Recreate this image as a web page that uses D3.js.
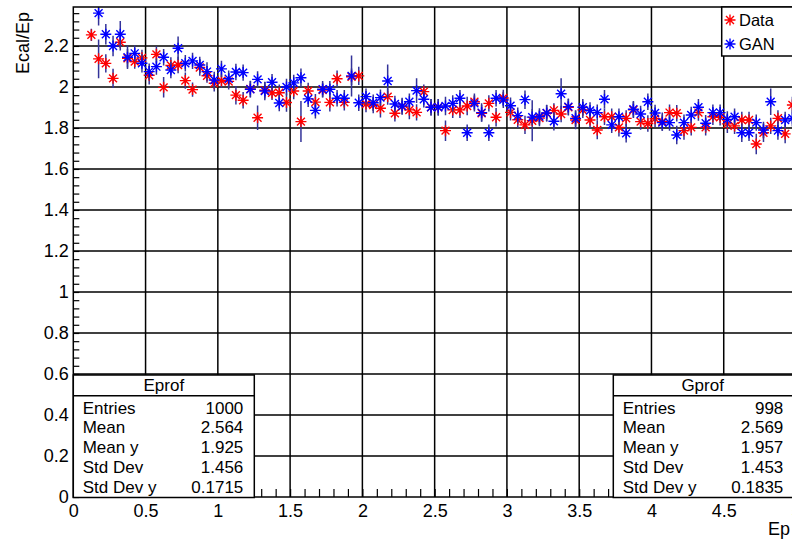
<!DOCTYPE html>
<html>
<head>
<meta charset="utf-8">
<script src="https://cdn.jsdelivr.net/npm/d3@7"></script>
<style>
body { margin: 0; background: #fff; }
svg { display: block; font-family: "Liberation Sans", Arial, Helvetica, sans-serif; }
</style>
</head>
<body>
<svg id="graph" width="792" height="542"></svg>
<script>
"use strict";

// bin centres (Ep)
var ep = [
  0.125, 0.175, 0.225, 0.275, 0.325, 0.375, 0.425, 0.475, 0.525, 0.575,
  0.625, 0.675, 0.725, 0.775, 0.825, 0.875, 0.925, 0.975, 1.025, 1.075,
  1.125, 1.175, 1.225, 1.275, 1.325, 1.375, 1.425, 1.475, 1.525, 1.575,
  1.625, 1.675, 1.725, 1.775, 1.825, 1.875, 1.925, 1.975, 2.025, 2.075,
  2.125, 2.175, 2.225, 2.275, 2.325, 2.375, 2.425, 2.475, 2.525, 2.575,
  2.625, 2.675, 2.725, 2.775, 2.825, 2.875, 2.925, 2.975, 3.025, 3.075,
  3.125, 3.175, 3.225, 3.275, 3.325, 3.375, 3.425, 3.475, 3.525, 3.575,
  3.625, 3.675, 3.725, 3.775, 3.825, 3.875, 3.925, 3.975, 4.025, 4.075,
  4.125, 4.175, 4.225, 4.275, 4.325, 4.375, 4.425, 4.475, 4.525, 4.575,
  4.625, 4.675, 4.725, 4.775, 4.825, 4.875, 4.925, 4.975
];

// Eprof (Data) profile: mean Ecal/Ep and error per bin
var dataMean = [
  2.254, 2.137, 2.115, 2.042, 2.218, 2.140, 2.124, 2.142, 2.057, 2.159,
  1.998, 2.105, 2.107, 2.031, 1.987, 2.095, 2.055, 2.018, 2.030, 2.027,
  1.960, 1.935, 1.990, 1.850, 1.984, 1.971, 1.972, 1.924, 1.980, 1.831,
  1.980, 1.926, 1.985, 1.925, 2.040, 1.925, 2.050, 2.054, 1.917, 1.912,
  1.896, 1.953, 1.872, 1.904, 1.888, 1.876, 1.977, 1.901, 1.901, 1.787,
  1.888, 1.888, 1.907, 1.928, 1.872, 1.920, 1.852, 1.946, 1.876, 1.840,
  1.815, 1.835, 1.848, 1.872, 1.886, 1.868, 1.901, 1.839, 1.888, 1.839,
  1.790, 1.855, 1.855, 1.803, 1.847, 1.888, 1.831, 1.822, 1.845, 1.831,
  1.875, 1.872, 1.787, 1.803, 1.875, 1.803, 1.855, 1.852, 1.820, 1.810,
  1.839, 1.839, 1.722, 1.777, 1.810, 1.847, 1.771, 1.912
];
var dataErr = [
  0.030, 0.095, 0.045, 0.047, 0.040, 0.045, 0.035, 0.040, 0.045, 0.040,
  0.050, 0.040, 0.040, 0.040, 0.035, 0.040, 0.035, 0.040, 0.035, 0.040,
  0.045, 0.040, 0.040, 0.060, 0.040, 0.035, 0.040, 0.045, 0.040, 0.100,
  0.040, 0.040, 0.035, 0.045, 0.040, 0.040, 0.040, 0.045, 0.040, 0.040,
  0.045, 0.040, 0.040, 0.040, 0.045, 0.040, 0.035, 0.040, 0.040, 0.050,
  0.040, 0.040, 0.045, 0.040, 0.040, 0.040, 0.045, 0.040, 0.040, 0.040,
  0.045, 0.100, 0.040, 0.040, 0.035, 0.040, 0.040, 0.045, 0.040, 0.040,
  0.045, 0.040, 0.040, 0.045, 0.040, 0.040, 0.040, 0.040, 0.040, 0.045,
  0.040, 0.040, 0.045, 0.040, 0.040, 0.040, 0.040, 0.040, 0.045, 0.040,
  0.040, 0.040, 0.050, 0.045, 0.040, 0.040, 0.045, 0.040
];

// Gprof (GAN) profile
var ganMean = [
  null,  2.360, 2.257, 2.200, 2.257, 2.145, 2.164, 2.116, 2.075, 2.099,
  2.145, 2.083, 2.189, 2.116, 2.127, 2.107, 2.075, 2.034, 2.088, 2.040,
  2.073, 2.070, 1.989, 2.037, 1.980, 2.023, 1.922, 2.000, 2.020, 2.045,
  1.942, 1.886, 1.989, 1.989, 1.945, 1.945, 2.054, 1.923, 1.953, 1.923,
  1.948, 2.029, 1.917, 1.907, 1.928, 1.982, 1.940, 1.901, 1.901, 1.907,
  1.920, 1.945, 1.777, 1.920, 1.875, 1.777, 1.945, 1.937, 1.908, 1.860,
  1.938, 1.853, 1.856, 1.873, 1.833, 1.967, 1.904, 1.847, 1.901, 1.885,
  1.875, 1.940, 1.815, 1.855, 1.774, 1.891, 1.868, 1.928, 1.873, 1.826,
  1.826, 1.766, 1.826, 1.863, 1.901, 1.823, 1.875, 1.875, 1.842, 1.855,
  1.777, 1.777, 1.826, 1.790, 1.928, 1.787, 1.839, 1.847
];
var ganErr = [
  0,     0.060, 0.050, 0.050, 0.065, 0.057, 0.040, 0.045, 0.040, 0.040,
  0.040, 0.040, 0.057, 0.040, 0.040, 0.040, 0.045, 0.040, 0.040, 0.040,
  0.040, 0.040, 0.040, 0.040, 0.045, 0.040, 0.040, 0.040, 0.040, 0.045,
  0.040, 0.040, 0.040, 0.040, 0.040, 0.040, 0.100, 0.040, 0.040, 0.040,
  0.040, 0.080, 0.040, 0.040, 0.040, 0.060, 0.040, 0.040, 0.040, 0.045,
  0.040, 0.040, 0.040, 0.040, 0.045, 0.040, 0.040, 0.040, 0.040, 0.040,
  0.045, 0.040, 0.040, 0.040, 0.045, 0.075, 0.040, 0.040, 0.040, 0.040,
  0.040, 0.045, 0.040, 0.040, 0.045, 0.040, 0.040, 0.040, 0.040, 0.040,
  0.040, 0.045, 0.040, 0.040, 0.040, 0.040, 0.040, 0.040, 0.040, 0.040,
  0.045, 0.040, 0.040, 0.040, 0.065, 0.045, 0.040, 0.040
];

var xTicks = [0, 0.5, 1, 1.5, 2, 2.5, 3, 3.5, 4, 4.5, 5];
var yTicks = [0, 0.2, 0.4, 0.6, 0.8, 1, 1.2, 1.4, 1.6, 1.8, 2, 2.2];

var statNames = ["Entries", "Mean", "Mean y", "Std Dev", "Std Dev y"];
var eprofStats = ["1000", "2.564", "1.925", "1.456", "0.1715"];
var gprofStats = ["998", "2.569", "1.957", "1.453", "0.1835"];

var seriesNames = ["Data", "GAN"];
var seriesColors = ["#ff0000", "#0000ff"];
var errColor = "#333399";

var
  svg = d3.select("#graph"),
  frame = {left: 73.3, right: 796, top: 7, bottom: 497},
  x = d3.scaleLinear().domain([0, 5]).range([frame.left, frame.right]),
  y = d3.scaleLinear().domain([0, 2.39]).range([frame.bottom, frame.top])
;

svg.append("defs").append("clipPath").attr("id", "frameClip")
  .append("rect")
  .attr("x", frame.left).attr("y", frame.top)
  .attr("width", frame.right - frame.left)
  .attr("height", frame.bottom - frame.top);

// grid
var grid = svg.append("g").attr("stroke", "#000").attr("stroke-width", 1.5);
grid.selectAll("line.gx")
  .data(xTicks.slice(1, -1))
  .join("line")
  .attr("class", "gx")
  .attr("x1", d => x(d)).attr("x2", d => x(d))
  .attr("y1", frame.top).attr("y2", frame.bottom);
grid.selectAll("line.gy")
  .data(yTicks.slice(1))
  .join("line")
  .attr("class", "gy")
  .attr("x1", frame.left).attr("x2", frame.right)
  .attr("y1", d => y(d)).attr("y2", d => y(d));

// minor ticks
svg.append("g")
  .attr("transform", "translate(" + frame.left + ",0)")
  .call(d3.axisLeft(y).tickValues(d3.range(0, 2.39, 0.04)).tickSize(-6).tickFormat(""))
  .call(g => g.select(".domain").remove())
  .selectAll("line").attr("stroke", "#000").attr("stroke-width", 1.2);

svg.append("g")
  .attr("transform", "translate(0," + frame.bottom + ")")
  .call(d3.axisBottom(x).tickValues(d3.range(0, 5.01, 0.1)).tickSize(-8).tickFormat(""))
  .call(g => g.select(".domain").remove())
  .selectAll("line").attr("stroke", "#000").attr("stroke-width", 1.2);

// axis labels
svg.append("g")
  .attr("transform", "translate(" + frame.left + ",0)")
  .call(d3.axisLeft(y).tickValues(yTicks).tickSize(0).tickPadding(4.5)
    .tickFormat(d3.format("")))
  .call(g => g.select(".domain").remove())
  .selectAll("text")
    .attr("font-family", "Liberation Sans, Arial, sans-serif")
    .attr("font-size", 18).attr("fill", "#000");

svg.append("g")
  .attr("transform", "translate(0," + frame.bottom + ")")
  .call(d3.axisBottom(x).tickValues(xTicks).tickSize(0).tickPadding(7)
    .tickFormat(d3.format("")))
  .call(g => g.select(".domain").remove())
  .selectAll("text")
    .attr("font-family", "Liberation Sans, Arial, sans-serif")
    .attr("font-size", 18).attr("fill", "#000");

svg.append("text")
  .attr("transform", "translate(29,12) rotate(-90)")
  .attr("text-anchor", "end")
  .attr("font-size", 18)
  .text("Ecal/Ep");

svg.append("text")
  .attr("x", 790).attr("y", 535)
  .attr("text-anchor", "end")
  .attr("font-size", 18)
  .text("Ep");

// star marker (ROOT kStar)
function starPath(s) {
  var d = s * 0.72;
  return "M" + (-s) + ",0L" + s + ",0M0," + (-s) + "L0," + s +
    "M" + (-d) + "," + (-d) + "L" + d + "," + d +
    "M" + (-d) + "," + d + "L" + d + "," + (-d);
}

function drawProfile(mean, err, color) {
  var pts = ep.map((e, i) => ({x: e, y: mean[i], e: err[i]}))
    .filter(d => d.y != null);
  var g = svg.append("g").attr("clip-path", "url(#frameClip)");
  g.selectAll("line")
    .data(pts)
    .join("line")
    .attr("x1", d => x(d.x)).attr("x2", d => x(d.x))
    .attr("y1", d => y(d.y - d.e)).attr("y2", d => y(d.y + d.e))
    .attr("stroke", errColor).attr("stroke-width", 1.5);
  g.selectAll("path")
    .data(pts)
    .join("path")
    .attr("transform", d => "translate(" + x(d.x) + "," + y(d.y) + ")")
    .attr("d", starPath(5.5))
    .attr("fill", "none")
    .attr("stroke", color).attr("stroke-width", 1.4);
}

drawProfile(dataMean, dataErr, seriesColors[0]);
drawProfile(ganMean, ganErr, seriesColors[1]);

// frame
svg.append("rect")
  .attr("x", frame.left).attr("y", frame.top)
  .attr("width", frame.right - frame.left)
  .attr("height", frame.bottom - frame.top)
  .attr("fill", "none").attr("stroke", "#000").attr("stroke-width", 1.5);

// legend
var leg = svg.append("g");
leg.append("rect")
  .attr("x", 721.7).attr("y", frame.top)
  .attr("width", 90).attr("height", 49)
  .attr("fill", "#fff").attr("stroke", "#000").attr("stroke-width", 1.5);
var legItems = leg.selectAll("g.item")
  .data(seriesNames)
  .join("g")
  .attr("class", "item")
  .attr("transform", (d, i) => "translate(730," + (20 + i * 24) + ")");
legItems.append("path")
  .attr("d", starPath(5.5))
  .attr("fill", "none")
  .attr("stroke", (d, i) => seriesColors[i]).attr("stroke-width", 1.4);
legItems.append("text")
  .attr("x", 9).attr("y", 6)
  .attr("font-size", 16.5)
  .text(d => d);

// stats boxes
function statsBox(x0, x1, title, values) {
  var g = svg.append("g");
  g.append("rect")
    .attr("x", x0).attr("y", 375)
    .attr("width", x1 - x0).attr("height", 122.5)
    .attr("fill", "#fff").attr("stroke", "#000").attr("stroke-width", 1.5);
  g.append("line")
    .attr("x1", x0).attr("x2", x1)
    .attr("y1", 395.7).attr("y2", 395.7)
    .attr("stroke", "#000").attr("stroke-width", 1.5);
  g.append("text")
    .attr("x", (x0 + Math.min(x1, 792)) / 2).attr("y", 391)
    .attr("text-anchor", "middle")
    .attr("font-size", 17)
    .text(title);
  g.selectAll("text.name")
    .data(statNames)
    .join("text")
    .attr("class", "name")
    .attr("x", x0 + 9.4)
    .attr("y", (d, i) => 413.5 + i * 19.8)
    .attr("font-size", 17)
    .text(d => d);
  g.selectAll("text.val")
    .data(values)
    .join("text")
    .attr("class", "val")
    .attr("x", x1 - 11)
    .attr("y", (d, i) => 413.5 + i * 19.8)
    .attr("text-anchor", "end")
    .attr("font-size", 17)
    .text(d => d);
}

statsBox(73.3, 254.3, "Eprof", eprofStats);
statsBox(613.3, 794.3, "Gprof", gprofStats);
</script>
</body>
</html>
